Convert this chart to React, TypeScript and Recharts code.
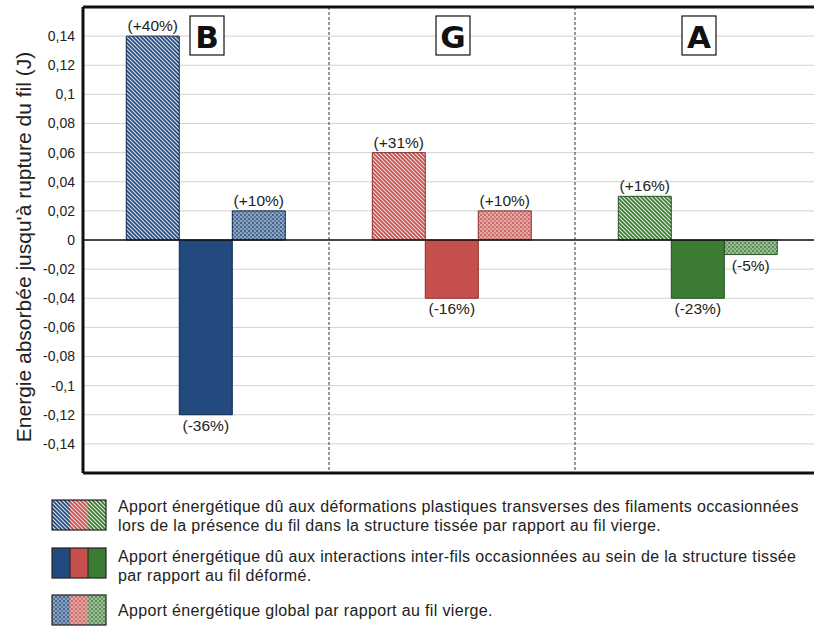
import {
  Bar,
  BarChart,
  CartesianGrid,
  Cell,
  LabelList,
  ReferenceLine,
  XAxis,
  YAxis,
} from "recharts";

const groups = ["B", "G", "A"];
const transverse = [0.14, 0.06, 0.03];
const interactions = [-0.12, -0.04, -0.04];
const globalGain = [0.02, 0.02, -0.01];
const transverseLabels = ["(+40%)", "(+31%)", "(+16%)"];
const interactionLabels = ["(-36%)", "(-16%)", "(-23%)"];
const globalLabels = ["(+10%)", "(+10%)", "(-5%)"];
const yTicks = [0.14, 0.12, 0.1, 0.08, 0.06, 0.04, 0.02, 0, -0.02, -0.04, -0.06, -0.08, -0.1, -0.12, -0.14];
// group boundaries, in units of categories
const separators = [1, 2];

const legendKinds = ["hatch", "solid", "dots"];
const legendTexts = [
  [
    "Apport énergétique dû aux déformations plastiques transverses des filaments occasionnées",
    "lors de la présence du fil dans la structure tissée par rapport au fil vierge.",
  ],
  [
    "Apport énergétique dû aux interactions inter-fils occasionnées au sein de la structure tissée",
    "par rapport au fil déformé.",
  ],
  ["Apport énergétique global par rapport au fil vierge."],
];

// per group: main colour, border, light tint
const palette = [
  { main: "#224a7f", dark: "#102a4c", tint: "#dbe5f1" },
  { main: "#c6504d", dark: "#8e2b29", tint: "#f6dcdb" },
  { main: "#3d7c35", dark: "#24501f", tint: "#e0eed9" },
];

const data = groups.map((g, i) => ({
  group: g,
  transverse: transverse[i],
  interactions: interactions[i],
  global: globalGain[i],
  tLabel: transverseLabels[i],
  iLabel: interactionLabels[i],
  gLabel: globalLabels[i],
}));

const FONT = '"Liberation Sans", Arial, sans-serif';
const fmt = (v: number) => String(v).replace(".", ",");

function Patterns() {
  return (
    <>
      {palette.map((c, i) => (
        <pattern key={"h" + i} id={"hatch-" + i} patternUnits="userSpaceOnUse" width={4} height={4}>
          <rect width={4} height={4} fill={c.tint} />
          <path d="M-1,-1 L5,5 M3,-1 L5,1 M-1,3 L1,5" stroke={c.main} strokeWidth={1.7} />
        </pattern>
      ))}
      {palette.map((c, i) => (
        <pattern key={"d" + i} id={"dots-" + i} patternUnits="userSpaceOnUse" width={4} height={4}>
          <rect width={4} height={4} fill={c.main} opacity={0.85} />
          <circle cx={1} cy={1} r={0.75} fill="#fff" />
          <circle cx={3} cy={3} r={0.75} fill="#fff" />
          <circle cx={3} cy={1} r={0.45} fill="#fff" />
        </pattern>
      ))}
    </>
  );
}

function GroupTick(props: any) {
  const { x, payload } = props;
  return (
    <g>
      <rect x={x - 16} y={16} width={34} height={39} fill="#fff" stroke="#111" strokeWidth={1.2} />
      <text
        x={x + 1}
        y={48}
        textAnchor="middle"
        fontSize={31}
        fontWeight="bold"
        fontFamily='"DejaVu Sans", sans-serif'
        fill="#111"
      >
        {payload.value}
      </text>
    </g>
  );
}

function YTitle(props: any) {
  const vb = props.viewBox;
  const cy = vb.y + vb.height / 2 + 7;
  return (
    <text
      x={23}
      y={cy}
      transform={`rotate(-90, 23, ${cy})`}
      textAnchor="middle"
      dominantBaseline="central"
      fontSize={21}
      fill="#222"
      fontFamily={FONT}
    >
      Energie absorbée jusqu'à rupture du fil (J)
    </text>
  );
}

function Swatch({ kind }: { kind: string }) {
  return (
    <svg width={57} height={32} style={{ display: "block" }}>
      {palette.map((c, i) => (
        <rect
          key={i}
          x={1 + i * 18}
          y={1}
          width={18}
          height={30}
          fill={kind === "hatch" ? `url(#hatch-${i})` : kind === "dots" ? `url(#dots-${i})` : c.main}
        />
      ))}
      <rect x={1} y={1} width={54} height={30} fill="none" stroke="#222" strokeWidth={1.2} />
      {kind === "solid" && (
        <>
          <line x1={19} y1={1} x2={19} y2={31} stroke="#222" strokeWidth={1} />
          <line x1={37} y1={1} x2={37} y2={31} stroke="#222" strokeWidth={1} />
        </>
      )}
    </svg>
  );
}

const swatchTops = [499, 547, 594];
const textTops = [498, 548, 602];

export default function App() {
  return (
    <div
      style={{
        position: "absolute",
        left: 0,
        top: 0,
        width: 814,
        height: 630,
        overflow: "hidden",
        background: "#fff",
        fontFamily: FONT,
      }}
    >
      <BarChart
        width={830}
        height={480}
        data={data}
        margin={{ top: 0, right: 9, left: 0, bottom: 7 }}
        barCategoryGap="17.6%"
        barGap={0}
      >
        <defs>
          <Patterns />
        </defs>
        <CartesianGrid stroke="#d2d2d2" vertical={false} />
        <CartesianGrid
          horizontal={false}
          stroke="#333"
          strokeDasharray="3 2"
          verticalCoordinatesGenerator={({ offset }: any) =>
            separators.map((s) => offset.left + (offset.width * s) / groups.length)
          }
        />
        <XAxis
          dataKey="group"
          orientation="top"
          height={7}
          axisLine={false}
          tickLine={false}
          interval={0}
          tick={<GroupTick />}
        />
        <YAxis
          domain={[-0.16, 0.16]}
          ticks={yTicks}
          tickFormatter={fmt}
          width={83}
          tickLine={false}
          axisLine={{ stroke: "#111", strokeWidth: 3 }}
          tick={{ fontSize: 14, fill: "#222", fontFamily: FONT }}
          label={<YTitle />}
        />
        <ReferenceLine y={0.16} stroke="#111" strokeWidth={3} />
        <ReferenceLine y={-0.16} stroke="#111" strokeWidth={3} />
        <ReferenceLine y={0} stroke="#111" strokeWidth={1.5} />
        <Bar dataKey="transverse" isAnimationActive={false}>
          {data.map((_, i) => (
            <Cell key={i} fill={`url(#hatch-${i})`} stroke={palette[i].dark} strokeWidth={1} />
          ))}
          <LabelList dataKey="tLabel" position="top" fontSize={15.5} fill="#222" fontFamily={FONT} />
        </Bar>
        <Bar dataKey="interactions" isAnimationActive={false}>
          {data.map((_, i) => (
            <Cell key={i} fill={palette[i].main} stroke={palette[i].dark} strokeWidth={1} />
          ))}
          <LabelList dataKey="iLabel" position="top" fontSize={15.5} fill="#222" fontFamily={FONT} />
        </Bar>
        <Bar dataKey="global" isAnimationActive={false}>
          {data.map((_, i) => (
            <Cell key={i} fill={`url(#dots-${i})`} stroke={palette[i].dark} strokeWidth={1} />
          ))}
          <LabelList dataKey="gLabel" position="top" fontSize={15.5} fill="#222" fontFamily={FONT} />
        </Bar>
      </BarChart>

      {legendKinds.map((kind, i) => (
        <div key={kind}>
          <div style={{ position: "absolute", left: 51, top: swatchTops[i] }}>
            <Swatch kind={kind} />
          </div>
          <div
            style={{
              position: "absolute",
              left: 118,
              top: textTops[i],
              fontSize: 16,
              letterSpacing: "0.35px",
              lineHeight: "18.5px",
              color: "#222",
              whiteSpace: "nowrap",
            }}
          >
            {legendTexts[i].map((l, j) => (
              <div key={j}>{l}</div>
            ))}
          </div>
        </div>
      ))}
    </div>
  );
}
